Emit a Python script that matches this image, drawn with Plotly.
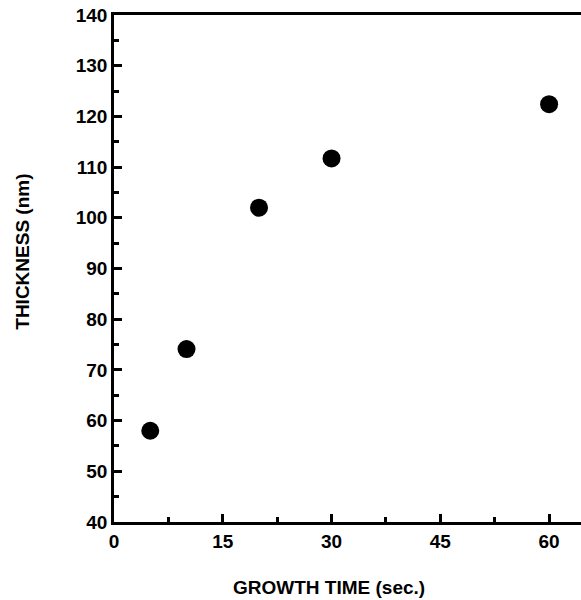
import plotly.graph_objects as go

growth_time = [5, 10, 20, 30, 60]
thickness = [58.0, 74.1, 102.0, 111.7, 122.4]

x_ticks = [0, 15, 30, 45, 60]
y_ticks = [40, 50, 60, 70, 80, 90, 100, 110, 120, 130, 140]

FONT = "Liberation Sans, Arial, sans-serif"

fig = go.Figure()
fig.add_trace(go.Scatter(
    x=growth_time, y=thickness, mode="markers",
    marker=dict(size=18, color="black"),
    showlegend=False, cliponaxis=False,
))

axis_common = dict(
    showgrid=False, zeroline=False, showline=True, linecolor="black", linewidth=2.5,
    ticks="inside", ticklen=8, tickwidth=2.5, tickcolor="black",
    tickfont=dict(family=FONT, size=19, color="black", weight="bold"),
)

fig.update_xaxes(
    range=[0, 64.4], tickvals=x_ticks, ticktext=["<b>%d</b>" % v for v in x_ticks],
    mirror=True,
    minor=dict(ticks="inside", ticklen=5, tickwidth=2.5, tickcolor="black", dtick=7.5, tick0=0),
    **axis_common,
)
fig.update_yaxes(
    range=[40, 140], tickvals=y_ticks, ticktext=["<b>%d</b>" % v for v in y_ticks],
    mirror=False,
    minor=dict(ticks="inside", ticklen=5, tickwidth=2.5, tickcolor="black", dtick=5, tick0=40),
    **axis_common,
)

fig.add_annotation(
    text="<b>GROWTH TIME (sec.)</b>", xref="paper", yref="paper",
    x=0.46, y=-0.13, xanchor="center", yanchor="middle", showarrow=False,
    font=dict(family=FONT, size=19, color="black"),
)
fig.add_annotation(
    text="<b>THICKNESS (nm)</b>", xref="paper", yref="paper",
    x=-0.195, y=0.533, xanchor="center", yanchor="middle", showarrow=False, textangle=-90,
    font=dict(family=FONT, size=19, color="black"),
)

fig.update_layout(
    width=581, height=600,
    margin=dict(l=114, r=0, t=15, b=78),
    plot_bgcolor="white", paper_bgcolor="white",
)

fig.write_html("out.html")
